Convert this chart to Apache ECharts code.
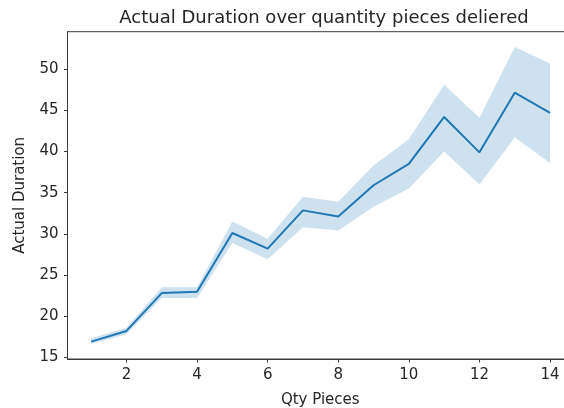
<!DOCTYPE html>
<html>
<head>
<meta charset="utf-8">
<script src="https://cdn.jsdelivr.net/npm/echarts@6/dist/echarts.min.js"></script>
<style>html,body{margin:0;padding:0;background:#fff;}#c{width:564px;height:408px;}</style>
</head>
<body>
<div id="c"></div>
<script>
const qty = [1, 2, 3, 4, 5, 6, 7, 8, 9, 10, 11, 12, 13, 14];
const meanDuration = [16.9, 18.2, 22.8, 22.95, 30.1, 28.2, 32.85, 32.1, 35.9, 38.5, 44.2, 39.9, 47.15, 44.7];
const ciLower = [16.6, 17.8, 22.2, 22.2, 28.9, 26.9, 30.8, 30.4, 33.3, 35.5, 40.0, 36.0, 41.7, 38.6];
const ciUpper = [17.3, 18.6, 23.5, 23.5, 31.5, 29.4, 34.5, 33.9, 38.3, 41.5, 48.1, 44.1, 52.7, 50.7];
const xTicks = [2, 4, 6, 8, 10, 12, 14];
const yTicks = [15, 20, 25, 30, 35, 40, 45, 50];

const FONT = 'DejaVu Sans';
const axisColor = '#3a3a3a';
const textColor = '#262626';
const chart = echarts.init(document.getElementById('c'), null, {renderer: 'canvas'});
chart.setOption({
  animation: false,
  backgroundColor: '#fff',
  title: {
    text: 'Actual Duration over quantity pieces deliered',
    left: 319, top: 4, textAlign: 'center',
    textStyle: {fontFamily: FONT, fontSize: 18, fontWeight: 'normal', color: textColor}
  },
  grid: {left: 67.5, top: 31.7, right: -9, bottom: 49, outerBoundsMode: 'none', containLabel: false, show: true, borderColor: axisColor, borderWidth: 1, backgroundColor: 'transparent'},
  xAxis: {
    type: 'value', min: 0.33, max: 14.65,
    name: 'Qty Pieces', nameLocation: 'middle', nameGap: 34,
    nameTextStyle: {fontFamily: FONT, fontSize: 15, color: textColor},
    splitLine: {show: false},
    axisLine: {show: true, lineStyle: {color: axisColor, width: 1}},
    axisTick: {show: true, length: 3.5, customValues: xTicks, lineStyle: {color: axisColor}},
    axisLabel: {customValues: xTicks, fontFamily: FONT, fontSize: 15, color: textColor, margin: 9}
  },
  yAxis: {
    type: 'value', min: 14.79, max: 54.56,
    name: 'Actual Duration', nameLocation: 'middle', nameGap: 40, nameRotate: 90,
    nameTextStyle: {fontFamily: FONT, fontSize: 15, color: textColor},
    splitLine: {show: false},
    axisLine: {show: true, lineStyle: {color: axisColor, width: 1}},
    axisTick: {show: true, length: 3.5, customValues: yTicks, lineStyle: {color: axisColor}},
    axisLabel: {customValues: yTicks, fontFamily: FONT, fontSize: 15, color: textColor, margin: 9}
  },
  series: [
    {
      type: 'custom',
      silent: true,
      clip: true,
      data: [[qty[0], ciLower[0]]],
      encode: {x: 0, y: 1},
      renderItem: function (params, api) {
        const pts = [];
        for (let i = 0; i < qty.length; i++) pts.push(api.coord([qty[i], ciUpper[i]]));
        for (let i = qty.length - 1; i >= 0; i--) pts.push(api.coord([qty[i], ciLower[i]]));
        return {type: 'polygon', shape: {points: pts}, style: {fill: 'rgba(31,119,180,0.22)', stroke: null}};
      },
      z: 1
    },
    {
      type: 'line',
      data: qty.map((q, i) => [q, meanDuration[i]]),
      showSymbol: false, symbol: 'none',
      lineStyle: {color: '#1f77b4', width: 2},
      z: 2
    }
  ]
});
</script>
</body>
</html>
